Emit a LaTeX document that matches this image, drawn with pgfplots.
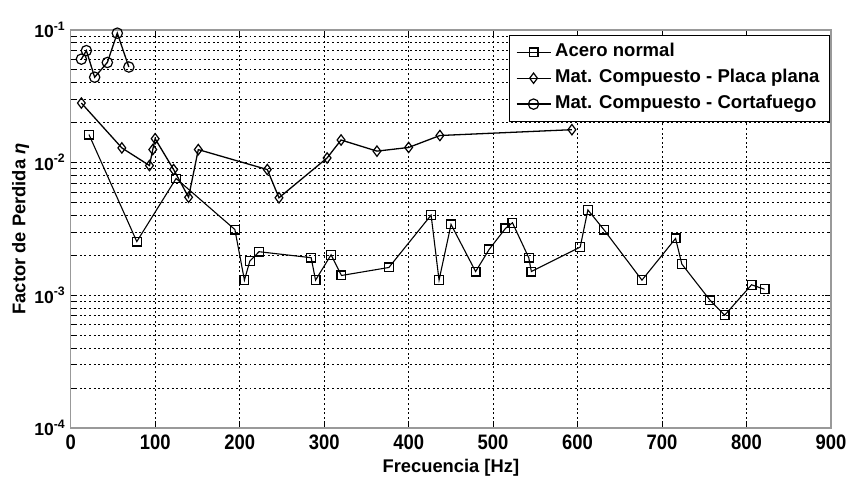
\documentclass[border=0pt]{standalone}
\usepackage{pgfplots}
\pgfplotsset{compat=1.18}
\usepackage{fontspec}
\setmainfont{Liberation Sans}
\usetikzlibrary{calc}

% Loss factor measurements
\pgfplotstableread{
f eta
21.6 0.01625
78.2 0.00254
124.7 0.00759
194.3 0.00313
205.6 0.0013
212.0 0.00181
222.9 0.00213
284.6 0.00192
289.8 0.0013
308.2 0.00202
320.5 0.00141
376.6 0.00162
426.6 0.00402
436.0 0.0013
450.2 0.00342
479.3 0.00151
495.4 0.00222
514.6 0.00319
522.9 0.00352
542.2 0.00192
545.3 0.00151
603.1 0.00231
612.2 0.0044
631.0 0.00313
676.2 0.0013
716.0 0.00268
723.4 0.00172
756.9 0.000916
774.1 0.000708
806.0 0.0012
821.3 0.00111
}\acero

\pgfplotstableread{
f eta
12.6 0.0281
60.5 0.0129
93.2 0.0095
97.1 0.01253
99.9 0.01513
121.8 0.00886
139.5 0.00548
151.0 0.01253
232.7 0.00886
246.5 0.00543
303.5 0.01084
320.0 0.0148
362.5 0.0122
400.0 0.0130
437.0 0.0160
593.3 0.0177
}\placa

\pgfplotstableread{
f eta
12.6 0.0602
18.5 0.0698
28.3 0.0440
43.3 0.0568
55.1 0.0945
68.8 0.0525
}\cortafuego

\begin{document}
\begin{tikzpicture}
\begin{axis}[
  scale only axis,
  width=381.5pt, height=199.75pt,
  xmin=0, xmax=900,
  ymode=log, log basis y=10,
  ymin=1e-4, ymax=1e-1,
  xtick={0,100,...,900},
  xticklabel={\scalebox{0.88}[1]{\pgfmathprintnumber{\tick}}},
  ytick={1e-4,1e-3,1e-2,1e-1},
  minor ytick={2e-4,3e-4,4e-4,5e-4,6e-4,7e-4,8e-4,9e-4,
               2e-3,3e-3,4e-3,5e-3,6e-3,7e-3,8e-3,9e-3,
               2e-2,3e-2,4e-2,5e-2,6e-2,7e-2,8e-2,9e-2},
  yticklabels={10\textsuperscript{-4},10\textsuperscript{-3},10\textsuperscript{-2},10\textsuperscript{-1}},
  /pgf/number format/assume math mode=true,
  xticklabel style={font=\bfseries\fontsize{10.5}{11}\selectfont},
  yticklabel style={font=\bfseries\fontsize{8.8}{10}\selectfont, xshift=1pt},
  grid=both,
  major grid style={black, dash pattern=on 1pt off 1.3pt, line width=0.35pt},
  minor grid style={black, dash pattern=on 1pt off 1.3pt, line width=0.35pt},
  minor x tick num=0,
  axis line style={gray!80, line width=0.7pt},
  tick style={black, line width=0.4pt},
  tick align=inside,
  major tick length=3pt, minor tick length=2pt,
  xlabel={Frecuencia [Hz]},
  ylabel={Factor de Perdida \textit{η}},
  label style={font=\bfseries\fontsize{9.2}{10}\selectfont},
  xlabel style={yshift=2pt},
  ylabel style={at={(axis description cs:-0.066,0.5)}, anchor=center},
  legend style={at={(1,1)}, anchor=north east, xshift=-0.5pt, yshift=-2.5pt,
    draw=black, line width=0.5pt, fill=white,
    font=\bfseries\fontsize{9.3}{10}\selectfont,
    nodes={inner sep=2pt, text height=6.8pt, text depth=2.2pt}},
  legend cell align=left,
]
\addplot[black, line width=0.55pt, mark=square, mark size=2.2pt, mark options={solid, line width=0.6pt}] table[x=f, y=eta] {\acero};
\addlegendentry{Acero normal}
\addplot[black, line width=0.65pt, mark=diamond, mark size=2.6pt, mark options={solid, line width=0.6pt}] table[x=f, y=eta] {\placa};
\addlegendentry{Mat. Compuesto - Placa plana}
\addplot[black, line width=0.65pt, mark=o, mark size=2.6pt, mark options={solid, line width=0.6pt}] table[x=f, y=eta] {\cortafuego};
\addlegendentry{Mat. Compuesto - Cortafuego}
\end{axis}
\useasboundingbox ($(current axis.south west)+(-35.5pt,-21.25pt)$) rectangle ($(current axis.north east)+(9.5pt,15pt)$);
\end{tikzpicture}
\end{document}
